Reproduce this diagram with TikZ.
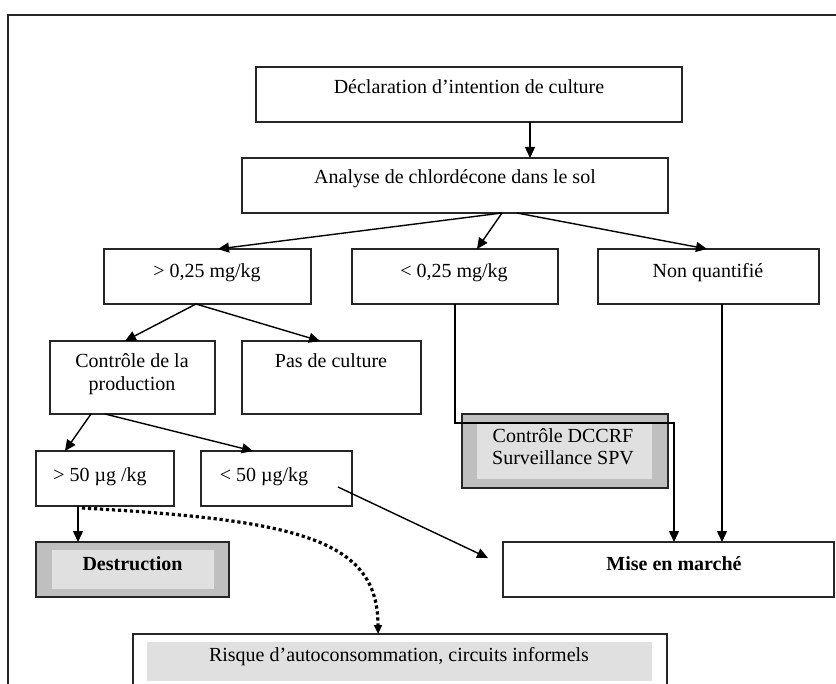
\documentclass[tikz,border=0pt]{standalone}
\usepackage{fontspec}
\setmainfont{Liberation Serif}
\usetikzlibrary{calc,arrows.meta}
\begin{document}
\begin{tikzpicture}[x=0.5pt,y=-0.5pt,
  font=\fontsize{10}{11.5}\selectfont,
  box/.style={draw=black!85, line width=0.75pt, inner sep=0pt, outer sep=0pt, fill=white},
  graybox/.style={box, fill=black!25},
  innergray/.style={inner sep=0pt, outer sep=0pt, fill=black!12},
  txt/.style={inner sep=0pt, anchor=base},
  arr/.style={draw=black, line width=0.7pt, -{Triangle[length=5.5pt,width=5pt]}},
  dotarr/.style={draw=black, line width=1.6pt, dash pattern=on 1.6pt off 1.4pt, -{Triangle[length=4.5pt,width=4pt]}},
  frame/.style={draw=black!85, line width=0.6pt}]
\path[use as bounding box, clip] (0,0) rectangle (836,684);
\fill[white] (0,0) rectangle (836,684);
\draw[frame] (860,15) -- (8,15) -- (8,700);

% boxes
\node[box, minimum width=213pt, minimum height=27.5pt] (decl) at (469,94.5) {};
\node[box, minimum width=213pt, minimum height=27.5pt] (anal) at (455,185.5) {};
\node[box, minimum width=103.5pt, minimum height=27.5pt] (gt025) at (207.5,276.5) {};
\node[box, minimum width=103pt, minimum height=27.5pt] (lt025) at (455,276.5) {};
\node[box, minimum width=110.5pt, minimum height=27.5pt] (nonq) at (708.5,276.5) {};
\node[box, minimum width=82.5pt, minimum height=36.5pt] (ctrlprod) at (132.5,377.5) {};
\node[box, minimum width=89.5pt, minimum height=36.5pt] (pasc) at (331.5,377.5) {};
\node[box, minimum width=69pt, minimum height=27.5pt] (gt50) at (105,478.5) {};
\node[box, minimum width=75.5pt, minimum height=27.5pt] (lt50) at (276.5,478.5) {};
\node[graybox, minimum width=103pt, minimum height=37pt] (dccrf) at (565,451) {};
\node[innergray, minimum width=87.5pt, minimum height=28.5pt] (dccrfin) at (564.5,450.5) {};
\node[graybox, minimum width=96.5pt, minimum height=27.5pt] (destr) at (132.5,569.5) {};
\node[innergray, minimum width=81pt, minimum height=19.5pt] (destrin) at (133,569.5) {};
\node[box, minimum width=165.5pt, minimum height=27.5pt] (mise) at (668.5,569.5) {};
\node[box, minimum width=267pt, minimum height=43pt] (risque) at (400,677) {};
\node[innergray, minimum width=252.5pt, minimum height=19.5pt] (risquein) at (399.5,661.5) {};

% texts
\node[txt] (tdecl) at (469,94) {Déclaration d’intention de culture};
\node[txt] (tanal) at (455,184) {Analyse de chlordécone dans le sol};
\node[txt] (tgt025) at (207,277.7) {> 0,25 mg/kg};
\node[txt] (tlt025) at (454,277.7) {< 0,25 mg/kg};
\node[txt] (tnonq) at (708,277.7) {Non quantifié};
\node[inner sep=0pt, align=center] (tctrl) at (132,374) {Contrôle de la\\production};
\node[txt] (tpasc) at (331,367.7) {Pas de culture};
\node[txt] (tgt50) at (100,481) {> 50 µg /kg};
\node[txt] (tlt50) at (264,481) {< 50 µg/kg};
\node[inner sep=0pt, align=center, font=\fontsize{10}{10.9}\selectfont] (tdccrf) at (563,446.5) {Contrôle DCCRF\\Surveillance SPV};
\node[txt, font=\fontsize{10}{11.5}\selectfont\bfseries] (tdestr) at (132.5,570) {Destruction};
\node[txt, font=\fontsize{10}{11.5}\selectfont\bfseries] (tmise) at (674,570) {Mise en marché};
\node[txt] (trisque) at (399,661) {Risque d’autoconsommation, circuits informels};

% connectors
\draw[arr] ($(decl.south west)+(274,0)$) -- ($(anal.north west)+(288,0)$);
\draw[arr] ($(anal.south west)+(260,0)$) -- ($(gt025.north west)+(114,0)$);
\draw[arr] ($(anal.south west)+(260,0)$) -- ($(lt025.north west)+(125,0)$);
\draw[arr] ($(anal.south west)+(275,0)$) -- ($(nonq.north west)+(109,0)$);
\draw[arr] ($(gt025.south west)+(92,0)$) -- ($(ctrlprod.north west)+(75,0)$);
\draw[arr] ($(gt025.south west)+(92,0)$) -- ($(pasc.north west)+(78,0)$);
\draw[arr] ($(ctrlprod.south west)+(41,0)$) -- ($(gt50.north west)+(29,0)$);
\draw[arr] ($(ctrlprod.south west)+(55,0)$) -- ($(lt50.north west)+(52,0)$);
\draw[arr] ($(gt50.south west)+(42,0)$) -- ($(destr.north west)+(42,0)$);
\draw[dotarr] ($(gt50.south west)+(46,2)$) .. controls (300,520) and (378,540) .. ($(risque.north west)+(245,0)$);
\draw[arr] ($(lt025.south west)+(103,0)$) |- ($(mise.north west)+(171,-119)$) -- ($(mise.north west)+(171,0)$);
\draw[arr] ($(nonq.south west)+(124,0)$) -- ($(mise.north west)+(219,0)$);
\coordinate (lt50start) at ($(lt50.north west)+(137,36)$);
\coordinate (miseend) at ($(mise.north west)+(-15,16)$);
\draw[arr] (lt50start) -- (miseend);
\end{tikzpicture}
\end{document}
